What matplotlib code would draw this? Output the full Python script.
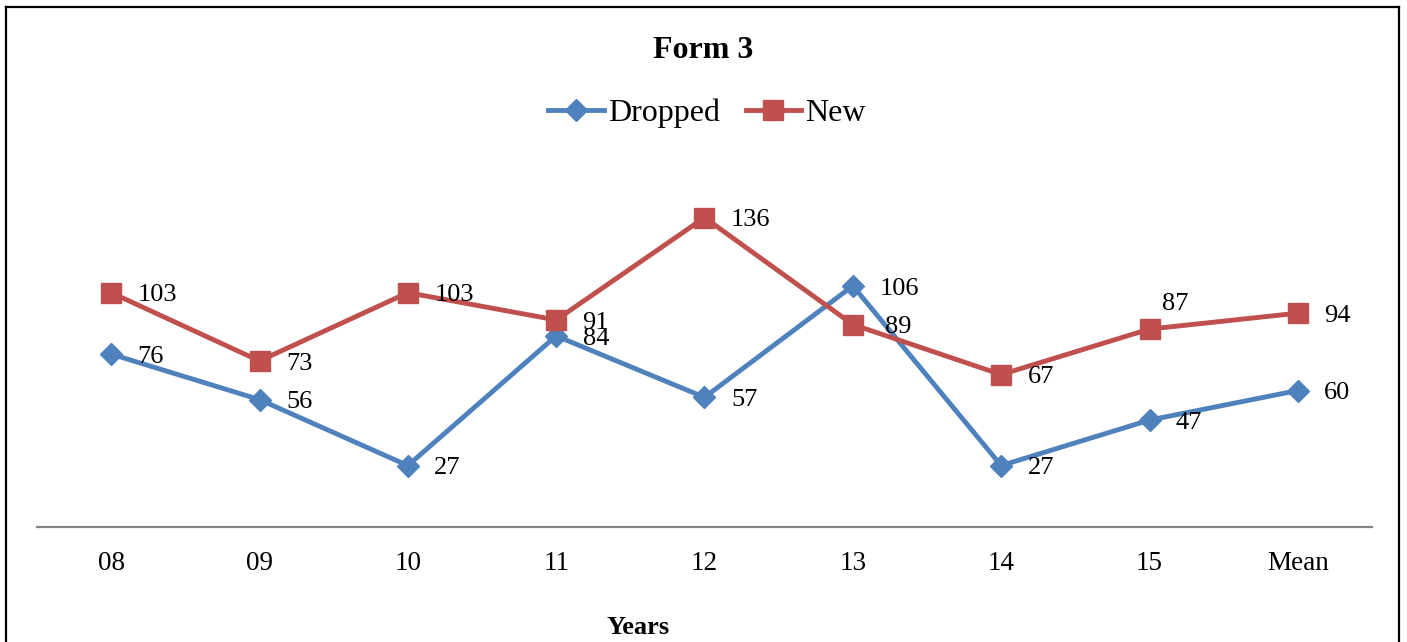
import matplotlib.pyplot as plt
from matplotlib.lines import Line2D

years = ['08', '09', '10', '11', '12', '13', '14', '15', 'Mean']
dropped = [76, 56, 27, 84, 57, 106, 27, 47, 60]
new = [103, 73, 103, 91, 136, 89, 67, 87, 94]

blue = '#4F81BD'
red = '#C0504D'

plt.rcParams['font.family'] = ['Liberation Serif', 'DejaVu Serif']

W, H = 1407, 642
fig = plt.figure(figsize=(W / 100, H / 100), dpi=100)
ax = fig.add_axes([37 / W, (H - 527) / H, (1372 - 37) / W, (527 - 163) / H])

x = list(range(len(years)))
ax.plot(x, dropped, color=blue, lw=3.5, marker='D', ms=11, label='Dropped', zorder=3)
ax.plot(x, new, color=red, lw=3.5, marker='s', ms=14, label='New', zorder=3)

# data labels to the right of each point
for i, v in enumerate(dropped):
    ax.annotate(str(v), (i, v), xytext=(19, -2), textcoords='offset points',
                ha='left', va='center', fontsize=19)
for i, v in enumerate(new):
    dx, dy = 19, -2
    if years[i] == '13':
        dx = 23
    if years[i] == '15':
        dx, dy = 9, 18
    ax.annotate(str(v), (i, v), xytext=(dx, dy), textcoords='offset points',
                ha='left', va='center', fontsize=19)

ax.set_xlim(-0.5, len(years) - 0.5)
ax.set_ylim(0, 160)
ax.set_xticks(x)
ax.set_xticklabels(years, fontsize=19.5)
ax.tick_params(axis='x', length=0, pad=17)
ax.set_yticks([])
for s in ['top', 'right', 'left']:
    ax.spines[s].set_visible(False)
ax.spines['bottom'].set_color('#868686')
ax.spines['bottom'].set_linewidth(1.6)

fig.text(703 / W, 1 - 50 / H, 'Form 3', ha='center', va='center',
         fontsize=23, fontweight='bold')
fig.text(638 / W, 1 - 628 / H, 'Years', ha='center', va='center',
         fontsize=19, fontweight='bold')

fig.legend(loc='center', bbox_to_anchor=(707 / W, 1 - 113 / H), ncol=2,
           frameon=False, fontsize=23, handlelength=1.75, handletextpad=0.12,
           columnspacing=0.8, borderpad=0)

# frame around the chart (bottom edge falls outside the picture)
lw = 1.6
fig.add_artist(Line2D([6 / W, 6 / W], [0, 1 - 7 / H], color='black', lw=lw))
fig.add_artist(Line2D([6 / W, 1399 / W], [1 - 7 / H, 1 - 7 / H], color='black', lw=lw))
fig.add_artist(Line2D([1399 / W, 1399 / W], [0, 1 - 7 / H], color='black', lw=lw))

fig.savefig('out.png', dpi=100)
